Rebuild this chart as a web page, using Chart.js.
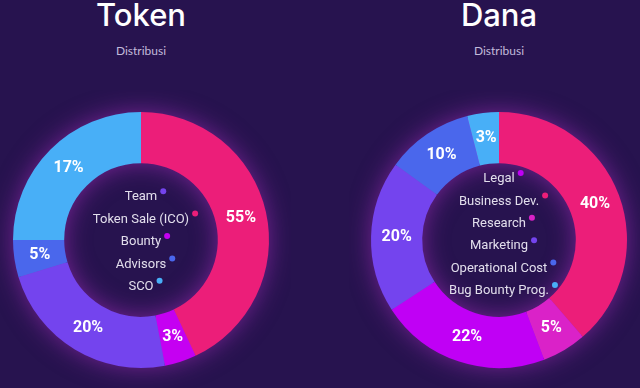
<!DOCTYPE html>
<html>
<head>
<meta charset="utf-8">
<script src="https://cdn.jsdelivr.net/npm/chart.js@4"></script>
<style>
  html, body { margin: 0; padding: 0; }
  body { width: 640px; height: 388px; background: #27134f; overflow: hidden; position: relative; }
  .title { position: absolute; width: 280px; text-align: center; color: #fff;
    font: 500 31px/31px Inter, sans-serif; top: -1px; }
  .sub { position: absolute; width: 280px; text-align: center; color: #c2badb;
    font: 12px/11px Lato, sans-serif; top: 45px; }
  canvas { position: absolute; top: 90px; }
</style>
</head>
<body>
<div class="title" style="left:1px">Token</div>
<div class="sub" style="left:1px">Distribusi</div>
<div class="title" style="left:359px">Dana</div>
<div class="sub" style="left:359px">Distribusi</div>
<canvas id="token" width="300" height="300" style="left:-9px"></canvas>
<canvas id="dana" width="300" height="300" style="left:349px"></canvas>
<script>
// slices in drawing order (clockwise from top)
const tokenNames = ['Token Sale (ICO)', 'Bounty', 'Team', 'Advisors', 'SCO']
const tokenShares = [43, 4, 23.3, 4.7, 25]
const tokenPct = ['55%', '3%', '20%', '5%', '17%']
const tokenColors = ['#ec1e79', '#c500f2', '#7444ee', '#4a67ec', '#48aff7']
const tokenLegend = ['Team', 'Token Sale (ICO)', 'Bounty', 'Advisors', 'SCO']

const danaNames = ['Business Dev.', 'Research', 'Legal', 'Marketing', 'Operational Cost', 'Bug Bounty Prog.']
const danaShares = [38.7, 5.6, 21.6, 19.2, 11, 4]
const danaPct = ['40%', '5%', '22%', '20%', '10%', '3%']
const danaColors = ['#ec1e79', '#da22c8', '#c000f5', '#7444ee', '#4a67ec', '#48aff7']
const danaLegend = ['Legal', 'Business Dev.', 'Research', 'Marketing', 'Operational Cost', 'Bug Bounty Prog.']

// soft glow behind the ring, spills into the hole and outside
const glow = {
  id: 'glow',
  beforeDatasetsDraw(chart) {
    const arc = chart.getDatasetMeta(0).data[0]
    if (!arc) return
    const { x, y, innerRadius, outerRadius } = arc.getProps(['x', 'y', 'innerRadius', 'outerRadius'], true)
    const ctx = chart.ctx
    ctx.save()
    ctx.shadowColor = 'rgba(190, 50, 210, 0.6)'
    ctx.shadowBlur = 26
    ctx.fillStyle = '#9a2ad0'
    ctx.beginPath()
    ctx.arc(x, y, outerRadius - 2, 0, Math.PI * 2)
    ctx.arc(x, y, innerRadius + 2, Math.PI * 2, 0, true)
    ctx.fill('evenodd')
    ctx.restore()
  }
}

const pctLabels = {
  id: 'pctLabels',
  afterDatasetsDraw(chart, args, opts) {
    const ctx = chart.ctx
    ctx.save()
    ctx.fillStyle = '#fff'
    ctx.font = 'bold 16px Roboto'
    ctx.textAlign = 'center'
    ctx.textBaseline = 'middle'
    chart.getDatasetMeta(0).data.forEach((arc, i) => {
      const p = arc.tooltipPosition()
      ctx.fillText(opts.text[i], p.x, p.y)
    })
    ctx.restore()
  }
}

const centerLegend = {
  id: 'centerLegend',
  afterDraw(chart, args, opts) {
    const arc = chart.getDatasetMeta(0).data[0]
    const ctx = chart.ctx
    const labels = chart.data.labels
    const colors = chart.data.datasets[0].backgroundColor
    ctx.save()
    ctx.font = '13px Roboto'
    ctx.textAlign = 'center'
    ctx.textBaseline = 'middle'
    const step = 22.4
    const top = arc.y + opts.shift - step * (opts.items.length - 1) / 2
    opts.items.forEach((name, i) => {
      const ty = top + i * step
      const w = ctx.measureText(name).width
      ctx.fillStyle = '#e2deec'
      ctx.fillText(name, arc.x, ty)
      ctx.fillStyle = colors[labels.indexOf(name)]
      ctx.beginPath()
      ctx.arc(arc.x + w / 2 + 6, ty - 6, 3, 0, Math.PI * 2)
      ctx.fill()
    })
    ctx.restore()
  }
}

function makeDonut(id, names, shares, colors, pct, legend, shift) {
  return new Chart(document.getElementById(id), {
    type: 'doughnut',
    data: {
      labels: names,
      datasets: [{ data: shares, backgroundColor: colors, borderWidth: 0 }]
    },
    options: {
      responsive: false,
      animation: false,
      radius: 128,
      cutout: 90,
      plugins: {
        legend: { display: false },
        tooltip: { enabled: false },
        pctLabels: { text: pct },
        centerLegend: { items: legend, shift: shift }
      }
    },
    plugins: [glow, pctLabels, centerLegend]
  })
}

makeDonut('token', tokenNames, tokenShares, tokenColors, tokenPct, tokenLegend, 2)
makeDonut('dana', danaNames, danaShares, danaColors, danaPct, danaLegend, -5)
</script>
</body>
</html>
